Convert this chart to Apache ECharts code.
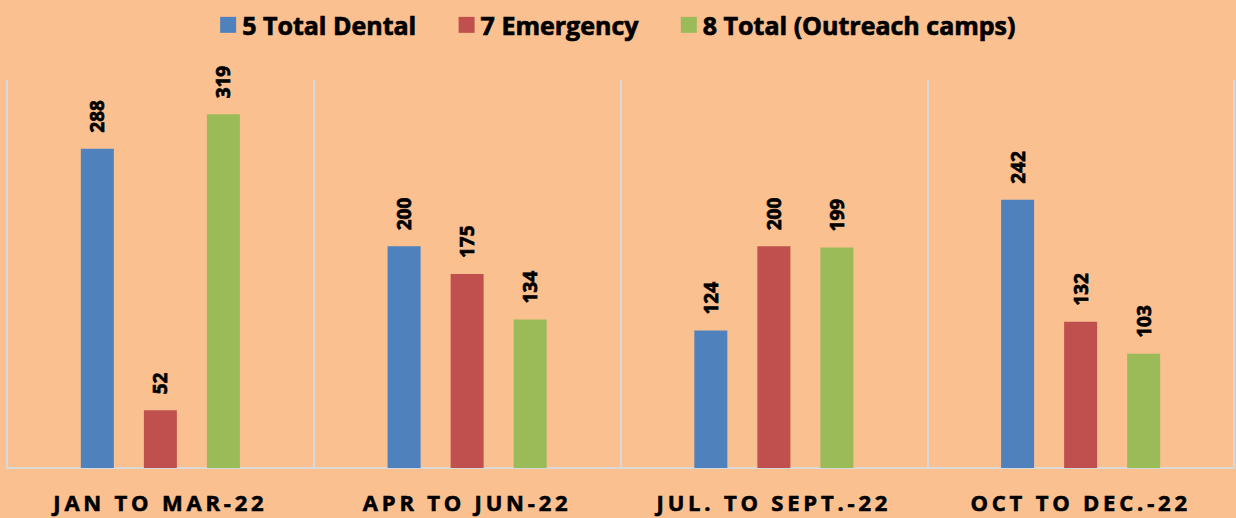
<!DOCTYPE html>
<html>
<head>
<meta charset="utf-8">
<script src="https://cdn.jsdelivr.net/npm/echarts@6/dist/echarts.min.js"></script>
<style>
html,body{margin:0;padding:0;background:#FAC090;}
#c{width:1236px;height:518px;}
</style>
</head>
<body>
<div id="c"></div>
<script>
const categories = ['JAN TO MAR-22', 'APR TO JUN-22', 'JUL. TO SEPT.-22', 'OCT TO DEC.-22'];
const seriesNames = ['5 Total Dental', '7 Emergency', '8 Total (Outreach camps)'];
const totalDental = [288, 200, 124, 242];
const emergency = [52, 175, 200, 132];
const outreach = [319, 134, 199, 103];
const colors = ['#4F81BD', '#C0504D', '#9BBB59'];

const chart = echarts.init(document.getElementById('c'), null, {renderer: 'svg'});
const labelStyle = {
  show: true, position: 'top', rotate: 90, align: 'left', verticalAlign: 'middle',
  distance: 16, fontFamily: 'Open Sans', fontWeight: 'bold', fontSize: 19, color: '#000',
  textBorderColor: '#000', textBorderWidth: 0.7
};
function mk(name, data, i) {
  return {
    name: name, type: 'bar', data: data, barWidth: 33, barGap: '91%',
    itemStyle: {color: colors[i]}, label: labelStyle
  };
}
chart.setOption({
  backgroundColor: '#FAC090',
  animation: false,
  color: colors,
  legend: {
    top: 7, left: 'center', itemWidth: 16, itemHeight: 16, itemGap: 42,
    icon: 'rect',
    textStyle: {fontFamily: 'Open Sans', fontWeight: 'bold', fontSize: 25, color: '#000',
      textBorderColor: '#000', textBorderWidth: 0.7, padding: [0,0,0,1]},
    data: seriesNames
  },
  grid: {left: 7, right: 2, top: 80, bottom: 50, containLabel: false},
  xAxis: {
    type: 'category', data: categories,
    axisLine: {lineStyle: {color: '#D9D9D9', width: 2}},
    axisTick: {show: false},
    splitLine: {show: true, lineStyle: {color: '#D9D9D9', width: 2}},
    axisLabel: {margin: 23, fontFamily: 'Open Sans', fontWeight: 'bold', fontSize: 22, color: '#000',
      textBorderColor: '#000', textBorderWidth: 0.6}
  },
  yAxis: {
    type: 'value', min: 0, max: 350, show: false,
    splitLine: {show: false}
  },
  series: [mk(seriesNames[0], totalDental, 0), mk(seriesNames[1], emergency, 1), mk(seriesNames[2], outreach, 2)]
});
function spaceLabels() {
  document.querySelectorAll('#c svg text').forEach(t => {
    if (categories.indexOf(t.textContent) >= 0) {
      t.style.letterSpacing = '3.8px';
    }
  });
}
spaceLabels();
chart.on('finished', spaceLabels);
</script>
</body>
</html>
